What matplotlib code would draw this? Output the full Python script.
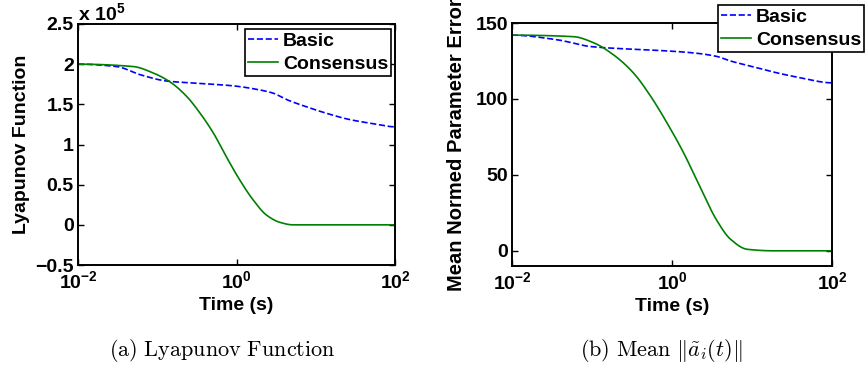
import numpy as np
import matplotlib
matplotlib.use("Agg")
import matplotlib.pyplot as plt

plt.rcParams['font.family'] = ['Liberation Sans', 'DejaVu Sans']
plt.rcParams['font.weight'] = 'bold'
plt.rcParams['mathtext.fontset'] = 'custom'
plt.rcParams['mathtext.rm'] = 'Liberation Sans:bold'
plt.rcParams['mathtext.it'] = 'Liberation Sans:bold'
plt.rcParams['mathtext.bf'] = 'Liberation Sans:bold'
plt.rcParams['mathtext.sf'] = 'Liberation Sans:bold'

# Left panel: Lyapunov function (units of 1e5), x as log10(time)
lyap_basic_logt = [-2.0, -1.51, -1.22, -0.88, -0.46, -0.04, 0.29, 0.46, 0.63, 0.88, 1.13, 1.43, 1.72, 2.0]
lyap_basic_val = [2.0, 1.97, 1.87, 1.79, 1.76, 1.73, 1.68, 1.64, 1.56, 1.47, 1.39, 1.31, 1.26, 1.22]
lyap_cons_logt = [-2.0, -1.30, -1.05, -0.84, -0.63, -0.46, -0.29, -0.13, 0.04, 0.21, 0.38, 0.55, 0.71, 2.0]
lyap_cons_val = [2.0, 1.97, 1.89, 1.78, 1.60, 1.39, 1.14, 0.85, 0.56, 0.31, 0.12, 0.03, 0.0, 0.0]

# Right panel: mean normed parameter error
err_basic_logt = [-2.0, -1.44, -1.02, -0.60, -0.19, 0.23, 0.56, 0.73, 1.06, 1.27, 1.60, 2.0]
err_basic_val = [142, 139, 134.5, 133, 132, 130.5, 128, 125, 120.6, 117.7, 114, 110.6]
err_cons_logt = [-2.0, -1.23, -0.98, -0.73, -0.48, -0.27, -0.06, 0.15, 0.35, 0.56, 0.73, 0.94, 1.27, 2.0]
err_cons_val = [142, 141, 137, 129, 117, 102, 84, 64, 42, 20, 7.7, 1, 0, 0]

series_names = ['Basic', 'Consensus']
xticks = [1e-2, 1e0, 1e2]
xticklabels = [r'$10^{-2}$', r'$10^{0}$', r'$10^{2}$']

W, H = 867, 371
fig = plt.figure(figsize=(W/100, H/100), dpi=100)

def ax_rect(x0, y0, x1, y1):
    return [x0/W, 1 - y1/H, (x1-x0)/W, (y1-y0)/H]

def pchip(x, y, xs):
    x = np.asarray(x, float); y = np.asarray(y, float)
    h = np.diff(x); d = np.diff(y) / h
    n = len(x)
    m = np.zeros(n)
    for i in range(1, n - 1):
        if d[i-1] * d[i] <= 0:
            m[i] = 0.0
        else:
            w1 = 2*h[i] + h[i-1]; w2 = h[i] + 2*h[i-1]
            m[i] = (w1 + w2) / (w1/d[i-1] + w2/d[i])
    m[0] = d[0] if abs(d[0]) < 1e-12 else 0.0
    m[-1] = 0.0
    idx = np.clip(np.searchsorted(x, xs) - 1, 0, n - 2)
    t = (xs - x[idx]) / h[idx]
    h00 = 2*t**3 - 3*t**2 + 1; h10 = t**3 - 2*t**2 + t
    h01 = -2*t**3 + 3*t**2; h11 = t**3 - t**2
    return h00*y[idx] + h10*h[idx]*m[idx] + h01*y[idx+1] + h11*h[idx]*m[idx+1]

def curve(lx, ly):
    xs = np.linspace(lx[0], lx[-1], 800)
    return 10**xs, pchip(lx, ly, xs)

blue = (0, 0, 1)
green = (0, 0.5, 0)
fs = 14

def style(ax):
    ax.set_xscale('log')
    ax.set_xlim(1e-2, 1e2)
    ax.set_xticks(xticks)
    ax.set_xticklabels(xticklabels)
    ax.xaxis.set_minor_locator(matplotlib.ticker.NullLocator())
    ax.tick_params(direction='in', top=True, right=True, labelsize=fs, width=1.0, length=4)
    ax.tick_params(axis='x', pad=4)
    ax.tick_params(axis='y', pad=3)
    for s in ax.spines.values():
        s.set_linewidth(1.4)
    for lab in ax.get_yticklabels():
        lab.set_fontweight('bold')
    ax.set_xlabel('Time (s)', fontsize=fs, fontweight='bold', labelpad=3)

def make_legend(ax, **kw):
    leg = ax.legend(fontsize=fs, frameon=True, fancybox=False, framealpha=1,
                    edgecolor='black', borderpad=0.15, labelspacing=0.3, handlelength=1.55,
                    handletextpad=0.25, **kw)
    leg.get_frame().set_linewidth(1.2)
    for t in leg.get_texts():
        t.set_fontweight('bold')
    return leg

# Left
ax1 = fig.add_axes(ax_rect(78, 24, 395, 265))
x, y = curve(lyap_basic_logt, lyap_basic_val)
ax1.plot(x, y, '--', color=blue, lw=1.2, label=series_names[0])
x, y = curve(lyap_cons_logt, lyap_cons_val)
ax1.plot(x, y, '-', color=green, lw=1.2, label=series_names[1])
ax1.set_ylim(-0.5, 2.5)
ax1.set_yticks([-0.5, 0, 0.5, 1, 1.5, 2, 2.5])
ax1.set_yticklabels(['\u22120.5', '0', '0.5', '1', '1.5', '2', '2.5'])
style(ax1)
ax1.set_ylabel('Lyapunov Function', fontsize=fs, fontweight='bold', labelpad=4)
ax1.text(0.0, 1.0, r'x 10$^{5}$', transform=ax1.transAxes, fontsize=fs,
         fontweight='bold', ha='left', va='bottom')
make_legend(ax1, loc='upper left', bbox_to_anchor=((245-78)/317, 1 - (29-24)/241),
            borderaxespad=0.0)

# Right
ax2 = fig.add_axes(ax_rect(512, 23, 832, 266))
x, y = curve(err_basic_logt, err_basic_val)
ax2.plot(x, y, '--', color=blue, lw=1.2, label=series_names[0])
x, y = curve(err_cons_logt, err_cons_val)
ax2.plot(x, y, '-', color=green, lw=1.2, label=series_names[1])
ax2.set_ylim(-10, 150)
ax2.set_yticks([0, 50, 100, 150])
style(ax2)
ax2.set_ylabel('Mean Normed Parameter Error', fontsize=14.5, fontweight='bold', labelpad=7)
make_legend(ax2, loc='upper left', bbox_to_anchor=((718-512)/320, 1 + (23-5)/243),
            borderaxespad=0.0)

# Captions
fig.text(222/W, 1 - 350/H, r'$\mathrm{(a)\ Lyapunov\ Function}$', ha='center', va='center',
         fontsize=16, math_fontfamily='cm')
fig.text(661/W, 1 - 350/H, r'$\mathrm{(b)\ Mean}\ \|\tilde{a}_i(t)\|$', ha='center', va='center',
         fontsize=16, math_fontfamily='cm')

fig.savefig('out.png', dpi=100)
